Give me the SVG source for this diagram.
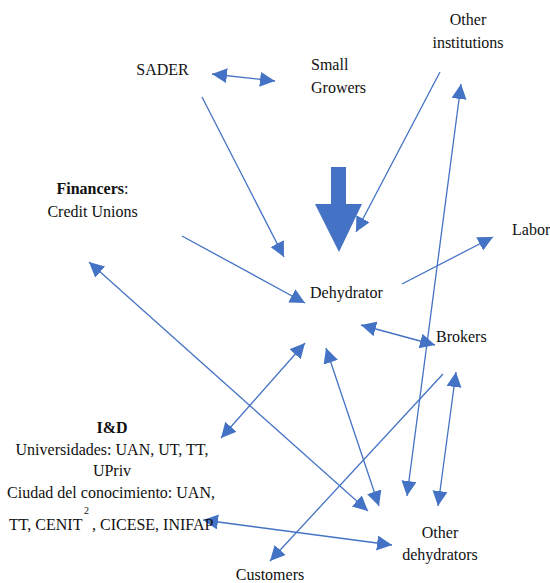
<svg xmlns="http://www.w3.org/2000/svg" width="550" height="583" viewBox="0 0 550 583">
<style>
text{font-family:'Liberation Serif','Times New Roman',serif;font-size:16px;fill:#111}
.b{font-weight:bold}
.c{text-anchor:middle}
.ln{stroke:#4472C4;stroke-width:1.3;fill:none}
.one{marker-end:url(#ah)}
.two{marker-start:url(#ah);marker-end:url(#ah)}
</style>
<defs>
<marker id="ah" markerUnits="userSpaceOnUse" markerWidth="16" markerHeight="16" refX="15" refY="7.5" orient="auto-start-reverse" viewBox="0 0 16 16">
<path d="M0,0 L15,7.5 L0,15 z" fill="#4472C4"/>
</marker>
</defs>
<rect width="550" height="583" fill="#fff"/>
<g id="connectors">
<line class="ln two" x1="212" y1="74" x2="275" y2="81"/>
<line class="ln one" x1="202" y1="97" x2="284" y2="257"/>
<line class="ln one" x1="182" y1="236" x2="305" y2="303"/>
<line class="ln one" x1="440" y1="72" x2="356" y2="232"/>
<line class="ln one" x1="402" y1="284" x2="493" y2="237"/>
<line class="ln two" x1="89" y1="262" x2="368" y2="511"/>
<line class="ln two" x1="361" y1="325" x2="435" y2="345"/>
<line class="ln two" x1="305" y1="343" x2="221" y2="438"/>
<line class="ln two" x1="326" y1="348" x2="379" y2="506"/>
<line class="ln two" x1="461" y1="84" x2="407" y2="496"/>
<line class="ln two" x1="456" y1="372" x2="438" y2="506"/>
<line class="ln one" x1="443" y1="374" x2="270" y2="561"/>
<line class="ln two" x1="203" y1="520" x2="392" y2="545"/>
<polygon id="main-flow" points="331,167 346,167 346,204 362,204 339,252 315,204 331,204" fill="#4472C4"/>
</g>
<g id="sader"><text class="c" x="162.5" y="75">SADER</text></g>
<g id="small-growers"><text x="311" y="70">Small</text><text x="311" y="93">Growers</text></g>
<g id="other-institutions"><text class="c" x="468" y="25">Other</text><text class="c" x="468" y="48">institutions</text></g>
<g id="financers"><text class="c" x="92.5" y="194"><tspan class="b">Financers</tspan>:</text><text class="c" x="92.5" y="217">Credit Unions</text></g>
<g id="labor"><text x="512" y="235">Labor</text></g>
<g id="dehydrator"><text x="310" y="298">Dehydrator</text></g>
<g id="brokers"><text x="436" y="342">Brokers</text></g>
<g id="id">
<text class="c b" x="112" y="433">I&amp;D</text>
<text class="c" x="112" y="455">Universidades: UAN, UT, TT,</text>
<text class="c" x="112" y="476">UPriv</text>
<text class="c" x="111" y="498">Ciudad del conocimiento: UAN,</text>
<text x="9" y="530">TT, CENIT</text>
<text x="84" y="514" style="font-size:10px">2</text>
<text x="92" y="530">, CICESE, INIFAP</text>
</g>
<g id="other-dehydrators"><text class="c" x="440" y="538">Other</text><text class="c" x="440" y="560">dehydrators</text></g>
<g id="customers"><text class="c" x="270" y="580">Customers</text></g>
</svg>
